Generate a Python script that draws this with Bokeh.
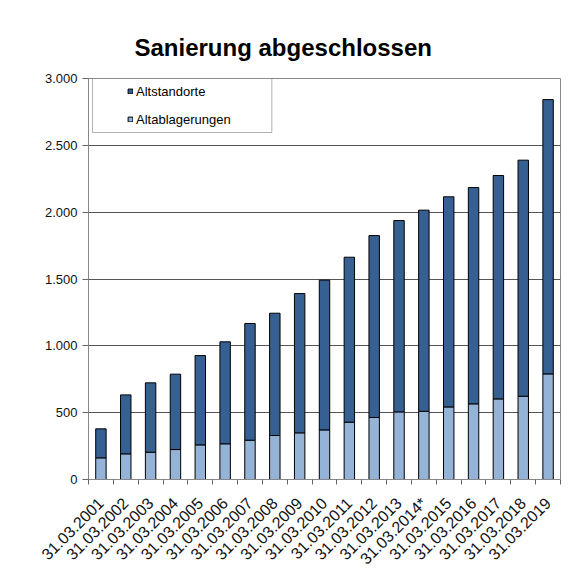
from bokeh.plotting import figure
from bokeh.models import (Range1d, FixedTicker, Legend, LegendItem, BoxAnnotation, Title)
from bokeh.embed import file_html
from bokeh.resources import INLINE

# ---- data ----
dates = ["31.03.2001", "31.03.2002", "31.03.2003", "31.03.2004", "31.03.2005",
         "31.03.2006", "31.03.2007", "31.03.2008", "31.03.2009", "31.03.2010",
         "31.03.2011", "31.03.2012", "31.03.2013", "31.03.2014*", "31.03.2015",
         "31.03.2016", "31.03.2017", "31.03.2018", "31.03.2019"]
altablagerungen = [162, 192, 204, 224, 259, 267, 294, 329, 349, 371,
                   429, 464, 506, 510, 543, 566, 603, 623, 790]
altstandorte = [217, 441, 519, 564, 668, 763, 873, 915, 1042, 1120,
                1234, 1361, 1431, 1505, 1572, 1618, 1671, 1766, 2052]
y_ticks = [0, 500, 1000, 1500, 2000, 2500, 3000]

DARK = "#376092"
LIGHT = "#95B3D7"
FONT = "Liberation Sans"

xpos = list(range(1, len(dates) + 1))

p = figure(width=561, height=578, output_backend="svg", toolbar_location=None,
           x_range=Range1d(0.5, len(dates) + 0.5), y_range=Range1d(0, 3000),
           min_border_left=88, min_border_right=1, min_border_top=78,
           min_border_bottom=99)

p.add_layout(Title(text="Sanierung abgeschlossen", align="left",
                   text_font=FONT, text_font_size="24px", text_font_style="bold",
                   text_color="#000000", standoff=35, offset=46), "above")

src = dict(x=xpos, Altablagerungen=altablagerungen, Altstandorte=altstandorte)
rs = p.vbar_stack(["Altablagerungen", "Altstandorte"], x="x", width=0.42,
                  source=src, color=[LIGHT, DARK], line_color="#000000",
                  line_width=1)
for r, c in zip(rs, [LIGHT, DARK]):
    r.glyph.fill_color = c
    r.glyph.line_color = "#000000"

# legend frame
p.add_layout(BoxAnnotation(left=0.66, right=7.88, bottom=2596, top=3000,
                           fill_color="#ffffff", fill_alpha=1,
                           line_color="#000000", line_width=1, level="overlay"))

legend = Legend(items=[LegendItem(label="Altstandorte", renderers=[rs[1]]),
                       LegendItem(label="Altablagerungen", renderers=[rs[0]])],
                location=(36, 347), padding=3, spacing=8, margin=0,
                glyph_width=6, glyph_height=6, label_standoff=3,
                label_text_font=FONT, label_text_font_size="13px",
                label_text_color="#000000", label_height=20,
                border_line_alpha=0, background_fill_alpha=0)
p.add_layout(legend, "center")

# axes
p.xgrid.grid_line_color = None
p.ygrid.ticker = FixedTicker(ticks=y_ticks)
p.ygrid.grid_line_color = "#555555"
p.ygrid.grid_line_width = 1

p.yaxis.ticker = FixedTicker(ticks=y_ticks)
p.yaxis.major_label_overrides = {t: f"{t:,}".replace(",", ".") for t in y_ticks}
p.yaxis.major_label_text_font = FONT
p.yaxis.major_label_text_font_size = "13px"
p.yaxis.major_label_text_color = "#111111"
p.yaxis.axis_line_color = "#888888"
p.yaxis.major_tick_line_color = "#666666"
p.yaxis.major_tick_out = 6
p.yaxis.major_tick_in = 0
p.yaxis.minor_tick_line_color = None
p.yaxis.major_label_standoff = 5

p.xaxis.ticker = FixedTicker(ticks=xpos, minor_ticks=[x + 0.5 for x in [0] + xpos])
p.xaxis.major_label_overrides = {x: d for x, d in zip(xpos, dates)}
p.xaxis.major_label_orientation = 0.785398
p.xaxis.major_label_text_font = FONT
p.xaxis.major_label_text_font_size = "16px"
p.xaxis.major_label_text_color = "#111111"
p.xaxis.axis_line_color = "#888888"
p.xaxis.major_tick_line_color = None
p.xaxis.major_tick_out = 0
p.xaxis.minor_tick_line_color = "#666666"
p.xaxis.minor_tick_out = 5
p.xaxis.minor_tick_in = 0
p.xaxis.major_label_standoff = 16

p.outline_line_color = "#888888"
p.background_fill_color = "#ffffff"
p.border_fill_color = "#ffffff"

open("out.html", "w").write(file_html(p, INLINE))
